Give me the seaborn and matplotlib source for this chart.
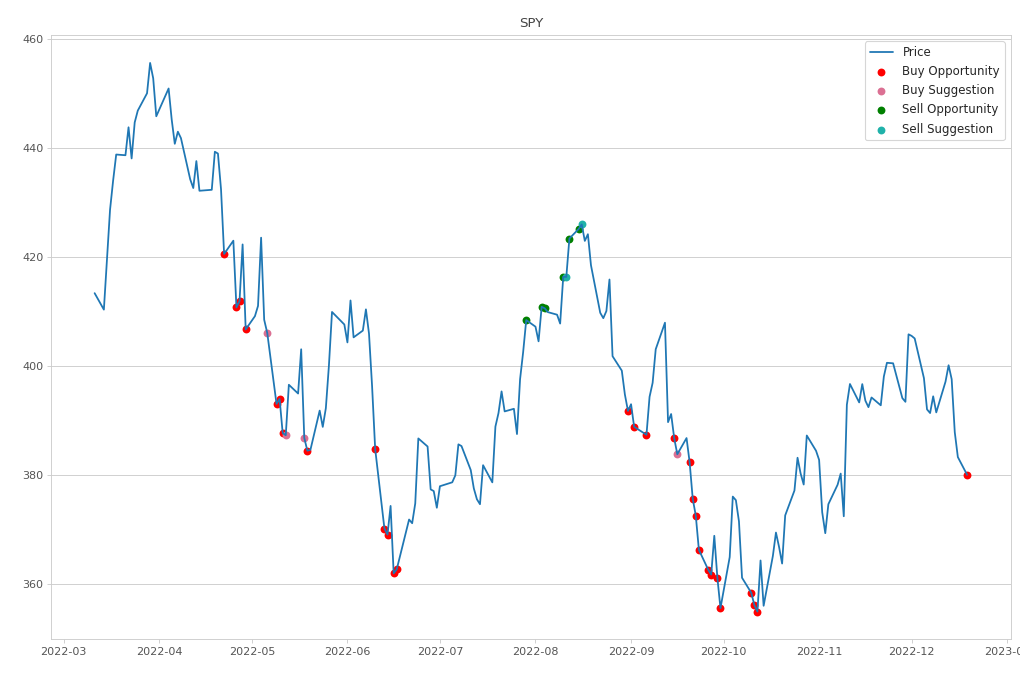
"""
SPY price with buy / sell signal markers (Mar - Dec 2022)
"""

import pandas as pd
import matplotlib.pyplot as plt
import seaborn as sns

sns.set_style("whitegrid")
plt.rcParams["font.family"] = ["DejaVu Sans"]

# Trading days per month and closing prices (adjusted)
mar_days = [11, 14, 15, 16, 17, 18, 21, 22, 23, 24, 25, 28, 29, 30, 31]
mar_close = [413.35, 410.33, 419.35, 428.65, 434.01, 438.79, 438.66, 443.79, 438.07, 444.68,
             446.85, 450.03, 455.60, 452.78, 445.81]

apr_days = [1, 4, 5, 6, 7, 8, 11, 12, 13, 14, 18, 19, 20, 21, 22, 25, 26, 27, 28, 29]
apr_close = [447.08, 450.91, 445.21, 440.76, 442.98, 441.80, 434.25, 432.64, 437.59, 432.14,
             432.32, 439.30, 438.97, 432.41, 420.54, 422.98, 410.73, 411.89, 422.29, 406.69]

may_days = [2, 3, 4, 5, 6, 9, 10, 11, 12, 13, 16, 17, 18, 19, 20, 23, 24, 25, 26, 27, 31]
may_close = [409.13, 411.01, 423.53, 408.47, 406.03, 393.03, 393.94, 387.68, 387.28, 396.54,
             394.93, 403.05, 386.80, 384.44, 384.60, 391.80, 388.81, 392.24, 400.08, 409.90, 407.60]

jun_days = [1, 2, 3, 6, 7, 8, 9, 10, 13, 14, 15, 16, 17, 21, 22, 23, 24, 27, 28, 29, 30]
jun_close = [404.31, 412.01, 405.24, 406.48, 410.38, 405.92, 396.26, 384.77, 370.16, 369.05,
             374.31, 361.92, 362.68, 371.81, 371.13, 374.77, 386.69, 385.21, 377.34, 377.03, 373.97]

jul_days = [1, 5, 6, 7, 8, 11, 12, 13, 14, 15, 18, 19, 20, 21, 22, 25, 26, 27, 28, 29]
jul_close = [377.92, 378.64, 379.92, 385.61, 385.29, 380.89, 377.52, 375.53, 374.62, 381.78,
             378.63, 388.86, 391.34, 395.32, 391.65, 392.13, 387.49, 397.55, 402.54, 408.41]

aug_days = [1, 2, 3, 4, 5, 8, 9, 10, 11, 12, 15, 16, 17, 18, 19, 22, 23, 24, 25, 26, 29, 30, 31]
aug_close = [407.20, 404.51, 410.84, 410.57, 409.87, 409.40, 407.77, 416.34, 416.34, 423.38,
             425.13, 425.96, 422.94, 424.17, 418.47, 409.75, 408.76, 410.07, 415.86, 401.78,
             399.13, 394.75, 391.74]

sep_days = [1, 2, 6, 7, 8, 9, 12, 13, 14, 15, 16, 19, 20, 21, 22, 23, 26, 27, 28, 29, 30]
sep_close = [392.97, 388.83, 387.36, 394.32, 396.90, 403.06, 407.93, 389.68, 391.17, 386.73,
             383.79, 386.76, 382.32, 375.65, 372.50, 366.26, 362.63, 361.71, 368.83, 361.12, 355.54]

oct_days = [3, 4, 5, 6, 7, 10, 11, 12, 13, 14, 17, 18, 19, 20, 21, 24, 25, 26, 27, 28, 31]
oct_close = [364.92, 376.02, 375.36, 371.48, 361.12, 358.36, 356.09, 354.92, 364.29, 355.98,
             365.13, 369.42, 366.80, 363.73, 372.57, 377.13, 383.15, 380.26, 378.23, 387.23, 384.43]

nov_days = [1, 2, 3, 4, 7, 8, 9, 10, 11, 14, 15, 16, 17, 18, 21, 22, 23, 25, 28, 29, 30]
nov_close = [382.75, 373.15, 369.30, 374.62, 378.20, 380.24, 372.41, 392.87, 396.68, 393.30,
             396.66, 393.63, 392.43, 394.21, 392.77, 398.06, 400.57, 400.48, 394.09, 393.41, 405.80]

dec_days = [1, 2, 5, 6, 7, 8, 9, 12, 13, 14, 15, 16, 19]
dec_close = [405.51, 405.04, 397.75, 392.02, 391.35, 394.42, 391.47, 397.11, 400.12, 397.56,
             387.84, 383.27, 380.02]

# Signal dates
buy_opportunity = ["2022-04-22", "2022-04-26", "2022-04-27", "2022-04-29", "2022-05-09",
                   "2022-05-10", "2022-05-11", "2022-05-19", "2022-06-10", "2022-06-13",
                   "2022-06-14", "2022-06-16", "2022-06-17", "2022-08-31", "2022-09-02",
                   "2022-09-06", "2022-09-15", "2022-09-20", "2022-09-21", "2022-09-22",
                   "2022-09-23", "2022-09-26", "2022-09-27", "2022-09-29", "2022-09-30",
                   "2022-10-10", "2022-10-11", "2022-10-12", "2022-12-19"]
buy_suggestion = ["2022-05-06", "2022-05-12", "2022-05-18", "2022-09-16"]
sell_opportunity = ["2022-07-29", "2022-08-03", "2022-08-04", "2022-08-10", "2022-08-12",
                    "2022-08-15"]
sell_suggestion = ["2022-08-11", "2022-08-16"]

months = [(3, mar_days, mar_close), (4, apr_days, apr_close), (5, may_days, may_close),
          (6, jun_days, jun_close), (7, jul_days, jul_close), (8, aug_days, aug_close),
          (9, sep_days, sep_close), (10, oct_days, oct_close), (11, nov_days, nov_close),
          (12, dec_days, dec_close)]

rows = []
for m, days, closes in months:
    for d, c in zip(days, closes):
        rows.append((pd.Timestamp(2022, m, d), c))
df = pd.DataFrame(rows, columns=["Date", "Close"]).set_index("Date")

fig, ax = plt.subplots(figsize=(12.75, 8.5), dpi=80)
fig.subplots_adjust(left=0.05, right=0.9909, bottom=0.0603, top=0.9478)

sns.lineplot(x=df.index, y=df["Close"], ax=ax, color="#1f77b4", linewidth=1.6, label="Price")

signals = [("Buy Opportunity", buy_opportunity, "red"),
           ("Buy Suggestion", buy_suggestion, "palevioletred"),
           ("Sell Opportunity", sell_opportunity, "green"),
           ("Sell Suggestion", sell_suggestion, "lightseagreen")]
for name, dates, col in signals:
    idx = pd.to_datetime(dates)
    sns.scatterplot(x=idx, y=df.loc[idx, "Close"].values, ax=ax, color=col,
                    s=50, linewidth=0, label=name)

ax.set_title("SPY", color="#444444", pad=8)
ax.set_xlabel("")
ax.set_ylabel("")
ax.xaxis.grid(False)
ax.tick_params(bottom=True, left=True, color="#cccccc", length=3.5, labelcolor="#555555")
leg = ax.legend(loc="upper right", fontsize=10.6, labelspacing=0.52)
for t in leg.get_texts():
    t.set_color("#262626")

plt.savefig("out.png", dpi=80)
